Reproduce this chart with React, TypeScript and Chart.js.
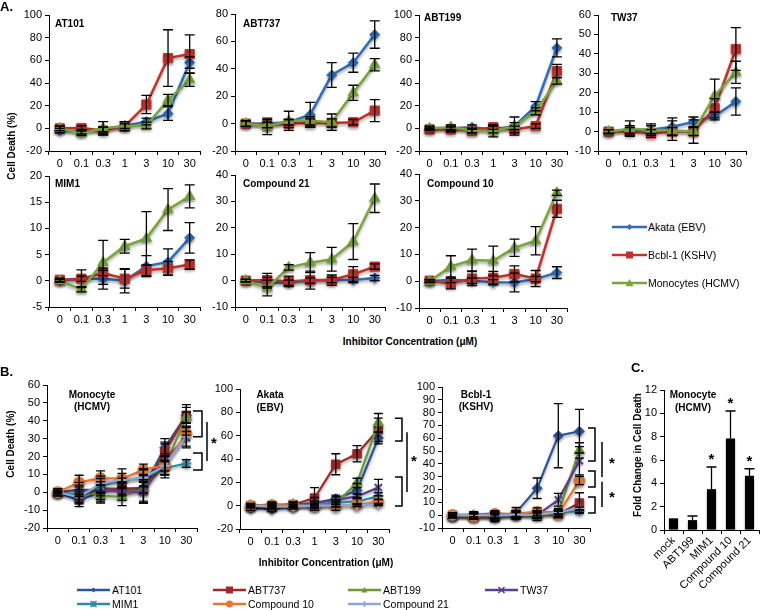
import React, { useEffect, useRef } from 'react';
import { Chart, registerables } from 'chart.js';
Chart.register(...registerables);

const FONT = "'Liberation Sans', Arial, Helvetica, sans-serif";

// ---------------- data ----------------
const concentrations = ['0', '0.1', '0.3', '1', '3', '10', '30'];
const cellLabels = ['Akata (EBV)', 'Bcbl-1 (KSHV)', 'Monocytes (HCMV)'];
const drugNames = ['AT101', 'ABT737', 'ABT199', 'TW37', 'MIM1', 'Compound 10', 'Compound 21'];

// AT101
const at101Akata = [-2, -3, -1, 2, 6, 13, 58];
const at101AkataErr = [2, 2, 2, 2, 3, 6, 5];
const at101Bcbl = [0, 0.3, -2, 2, 21, 62, 65.5];
const at101BcblErr = [2, 2, 3, 4, 8, 25, 17];
const at101Mono = [0, -4.5, 0, 2, 2.5, 25, 43];
const at101MonoErr = [2, 2, 6, 4, 3, 5, 6];
// ABT737
const abt737Akata = [0, 0, 1, 6.5, 35.5, 44.5, 65];
const abt737AkataErr = [2, 3, 2, 9, 9, 7, 10];
const abt737Bcbl = [0, -1, 0, 0.5, 0.5, 1, 9.5];
const abt737BcblErr = [2, 2, 3, 3, 3, 2, 8];
const abt737Mono = [0, -2, 2, 2, 1, 22.5, 43];
const abt737MonoErr = [2, 6, 7, 3, 6, 5.5, 4.5];
// ABT199
const abt199Akata = [0, 0, 1, -1, 2, 19.5, 71];
const abt199AkataErr = [1, 2, 2, 3, 3, 4, 8];
const abt199Bcbl = [-1, -1, -2, 1, -1, 2, 50.5];
const abt199BcblErr = [1, 2, 2, 2, 3, 2, 6];
const abt199Mono = [0, 1, -2, -2.5, 2, 15, 42];
const abt199MonoErr = [2, 2, 2, 5, 8, 3, 3];
// TW37
const tw37Akata = [0, 1, 1, 2.5, 5, 8, 15.5];
const tw37AkataErr = [1, 2, 2, 4.5, 2.5, 2, 7];
const tw37Bcbl = [0, 0, -1, 0, 0, 12, 42.5];
const tw37BcblErr = [1, 2, 2, 2, 2, 5, 11];
const tw37Mono = [0, 1.5, 1, 0.5, 0, 18.5, 30.5];
const tw37MonoErr = [1, 4, 3, 5, 6, 8.5, 5.7];
// MIM1
const mim1Akata = [0, 0.4, 0.4, 0, 2.8, 3.6, 8.2];
const mim1AkataErr = [0.3, 0.5, 2, 2.3, 2, 2.5, 2.9];
const mim1Bcbl = [0.2, 0.4, 1.5, 0.4, 2, 2.4, 3.1];
const mim1BcblErr = [0.3, 1.7, 0.5, 1.8, 1, 1.3, 0.9];
const mim1Mono = [0, -1.6, 3.5, 6.6, 8.1, 13.6, 16.1];
const mim1MonoErr = [0.3, 0.5, 4.2, 1.3, 5.1, 4, 2.2];
// Compound 21
const c21Akata = [0, -0.8, -0.8, 0, 0.2, 0.2, 1];
const c21AkataErr = [0.5, 2, 1, 1, 1, 1, 1];
const c21Bcbl = [0, 0.2, -0.3, 0.2, 0.2, 2.4, 5.3];
const c21BcblErr = [0.5, 2.5, 2, 3.4, 2, 2.9, 1];
const c21Mono = [0, -2.8, 5, 6.8, 8.1, 14.8, 31.2];
const c21MonoErr = [0.5, 3, 1, 3.8, 4.5, 6.8, 5.4];
// Compound 10
const c10Akata = [0, 0.5, 0.2, -0.4, -0.5, 0.8, 3.2];
const c10AkataErr = [0.5, 1, 1, 1, 3.5, 1, 2.2];
const c10Bcbl = [0.2, -0.9, 1, 1.3, 2.7, 1, 27];
const c10BcblErr = [0.5, 2, 2.6, 2.4, 3, 3, 3.2];
const c10Mono = [0, 5.5, 7.9, 7.6, 12.5, 15.1, 33];
const c10MonoErr = [0.5, 4, 4.1, 5.5, 3.2, 5.3, 1];

// Panel C
const foldLabels = ['mock', 'ABT199', 'MIM1', 'Compound 10', 'Compound 21'];
const foldValues = [1, 0.85, 3.5, 7.85, 4.65];
const foldErr = [0, 0.35, 1.9, 2.35, 0.6];
const foldSignificant = [false, false, true, true, true];

// Panel B significance brackets (value ranges)
const monoBrackets = [[45.5, 31], [22, 12.4]];
const monoLinks = [[39.3, 17.5]];
const monoStars = [29.5];
const akataBrackets = [[75, 55.4], [24.6, -0.3]];
const akataLinks = [[63, 11.7]];
const akataStars = [41];
const bcblBrackets = [[68, 42.3], [34.5, 22], [14.2, 1.7]];
const bcblLinks = [[57, 29.8], [26, 6.4]];
const bcblStars = [43, 17];

// ---------------- styles ----------------
const cellColors = ['#2f6db5', '#c0322c', '#7aa53a'];
const cellShapes = ['rectRot', 'rect', 'triangle'];
const cellRadius = [5, 6.5, 6];
const drugColors = ['#2b5597', '#9e2a2b', '#6b9a34', '#5b3e8c', '#2e8ba5', '#e8772e', '#8ea6d6'];
const drugShapes = ['rectRot', 'rect', 'triangle', 'crossRot', 'star', 'circle', 'cross'];
const drugRadius = [5, 6, 6, 5, 5, 5.5, 5];

type Area = { l: number; t: number; r: number; b: number };

type Brk = { spans: number[][]; links: number[][]; stars: number[]; capL: number; capR: number; linkX: number; starX: number };

function makeExtras(errs: number[][], cap: number, brk?: Brk, plusOnly = false, barStars?: boolean[]) {
  return {
    id: 'extras',
    beforeDatasetsDraw(chart: any) {
      const ctx = chart.ctx;
      ctx.save();
      ctx.shadowColor = 'rgba(0,0,0,0.35)';
      ctx.shadowBlur = 3;
      ctx.shadowOffsetX = 0;
      ctx.shadowOffsetY = 2;
    },
    afterDatasetsDraw(chart: any) {
      const ctx = chart.ctx;
      ctx.restore();
      const ys = chart.scales.y;
      ctx.save();
      ctx.strokeStyle = '#000';
      ctx.lineWidth = 1.3;
      errs.forEach((arr, di) => {
        const meta = chart.getDatasetMeta(di);
        const data = chart.data.datasets[di].data;
        arr.forEach((e, j) => {
          if (!e) return;
          const x = meta.data[j].x;
          const v = data[j];
          const yT = ys.getPixelForValue(v + e);
          const yB = plusOnly ? ys.getPixelForValue(v) : ys.getPixelForValue(v - e);
          ctx.beginPath();
          ctx.moveTo(x, yT);
          ctx.lineTo(x, yB);
          ctx.moveTo(x - cap, yT);
          ctx.lineTo(x + cap, yT);
          if (!plusOnly) {
            ctx.moveTo(x - cap, yB);
            ctx.lineTo(x + cap, yB);
          }
          ctx.stroke();
          if (barStars && barStars[j]) {
            ctx.fillStyle = '#000';
            ctx.font = `bold 15px ${FONT}`;
            ctx.textAlign = 'center';
            ctx.textBaseline = 'middle';
            ctx.fillText('*', x, yT - 7);
          }
        });
      });
      if (brk) {
        const R = chart.chartArea.right;
        ctx.lineWidth = 1.5;
        brk.spans.forEach(([a, b]) => {
          const ya = ys.getPixelForValue(a);
          const yb = ys.getPixelForValue(b);
          ctx.beginPath();
          ctx.moveTo(R + brk.capL, ya);
          ctx.lineTo(R + brk.capR, ya);
          ctx.lineTo(R + brk.capR, yb);
          ctx.lineTo(R + brk.capL, yb);
          ctx.stroke();
        });
        brk.links.forEach(([a, b]) => {
          ctx.beginPath();
          ctx.moveTo(R + brk.linkX, ys.getPixelForValue(a));
          ctx.lineTo(R + brk.linkX, ys.getPixelForValue(b));
          ctx.stroke();
        });
        ctx.fillStyle = '#000';
        ctx.font = `bold 15px ${FONT}`;
        ctx.textAlign = 'center';
        ctx.textBaseline = 'middle';
        brk.stars.forEach((v) => ctx.fillText('*', R + brk.starX, ys.getPixelForValue(v) + 4));
      }
      ctx.restore();
    },
  };
}

function axisOpts(extra: any) {
  return {
    grid: { drawOnChartArea: false, tickLength: 4, color: '#000', lineWidth: 1, ...(extra.grid || {}) },
    border: { display: true, color: '#000', width: 1 },
    ticks: { color: '#000', font: { family: FONT, size: 11 }, autoSkip: false, maxTicksLimit: 30, ...(extra.ticks || {}) },
  };
}

function lineChart(datasets: any[], min: number, max: number, step: number, errs: number[][], cap: number, brk?: Brk) {
  return {
    type: 'line',
    data: { labels: concentrations, datasets },
    options: {
      responsive: false,
      maintainAspectRatio: false,
      animation: false,
      plugins: { legend: { display: false }, tooltip: { enabled: false } },
      scales: {
        x: {
          type: 'category',
          offset: true,
          ...axisOpts({ grid: { offset: true }, ticks: { padding: 2, maxRotation: 0 } }),
        },
        y: {
          min,
          max,
          ...axisOpts({ ticks: { stepSize: step, padding: 3 } }),
        },
      },
    },
    plugins: [makeExtras(errs, cap, brk)],
  };
}

function dataset(label: string, data: number[], color: string, shape: string, radius: number, order: number, width: number) {
  return {
    label,
    data,
    borderColor: color,
    backgroundColor: color,
    pointBackgroundColor: color,
    pointBorderColor: color,
    pointStyle: shape,
    pointRadius: radius,
    pointBorderWidth: shape === 'crossRot' || shape === 'star' || shape === 'cross' ? 2 : 1,
    borderWidth: width,
    tension: 0,
    fill: false,
    order,
  };
}

function cellSets(series: number[][]) {
  return series.map((d, i) => dataset(cellLabels[i], d, cellColors[i], cellShapes[i], cellRadius[i], series.length - i, 2.5));
}
function drugSets(series: number[][]) {
  return series.map((d, i) => dataset(drugNames[i], d, drugColors[i], drugShapes[i], drugRadius[i], series.length - i, 2.2));
}

function ChartCanvas({ area, yW, xH, padT, padR, make }: any) {
  const ref = useRef<HTMLCanvasElement>(null);
  const w = area.r - area.l + yW + padR;
  const h = area.b - area.t + padT + xH;
  useEffect(() => {
    const cfg = make();
    cfg.options.layout = { padding: { top: padT, right: padR, left: 0, bottom: 0 } };
    cfg.options.scales.x.afterFit = (s: any) => {
      s.height = xH;
    };
    cfg.options.scales.y.afterFit = (s: any) => {
      s.width = yW;
    };
    const c = new Chart(ref.current as HTMLCanvasElement, cfg);
    return () => c.destroy();
  }, []);
  return (
    <canvas
      ref={ref}
      width={w}
      height={h}
      style={{ position: 'absolute', left: area.l - yW, top: area.t - padT, width: w, height: h, display: 'block' }}
    />
  );
}

function Txt({ x, y, children, bold, size = 10, align = 'left' }: any) {
  const w = 240;
  const left = align === 'left' ? x : align === 'center' ? x - w / 2 : x - w;
  return (
    <div
      style={{
        position: 'absolute',
        left,
        top: y - 7,
        width: w,
        height: 14,
        lineHeight: '14px',
        fontSize: size,
        fontWeight: bold ? 'bold' : 'normal',
        textAlign: align,
        whiteSpace: 'nowrap',
        color: '#000',
      }}
    >
      {children}
    </div>
  );
}

function VTxt({ x, y, children }: any) {
  return (
    <div
      style={{
        position: 'absolute',
        left: x - 100,
        top: y - 7,
        width: 200,
        height: 14,
        lineHeight: '14px',
        fontSize: 10,
        fontWeight: 'bold',
        textAlign: 'center',
        transform: 'rotate(-90deg)',
        whiteSpace: 'nowrap',
      }}
    >
      {children}
    </div>
  );
}

function Marker({ shape, color, cx, cy, s }: any) {
  switch (shape) {
    case 'rectRot':
      return <polygon points={`${cx},${cy - s} ${cx + s},${cy} ${cx},${cy + s} ${cx - s},${cy}`} fill={color} />;
    case 'rect':
      return <rect x={cx - s} y={cy - s} width={2 * s} height={2 * s} fill={color} />;
    case 'triangle':
      return <polygon points={`${cx},${cy - s} ${cx + s},${cy + s * 0.8} ${cx - s},${cy + s * 0.8}`} fill={color} />;
    case 'circle':
      return <circle cx={cx} cy={cy} r={s} fill={color} />;
    case 'crossRot':
      return (
        <path d={`M${cx - s} ${cy - s}L${cx + s} ${cy + s}M${cx - s} ${cy + s}L${cx + s} ${cy - s}`} stroke={color} strokeWidth={1.6} />
      );
    case 'star':
      return (
        <path
          d={`M${cx - s} ${cy - s}L${cx + s} ${cy + s}M${cx - s} ${cy + s}L${cx + s} ${cy - s}M${cx} ${cy - s}L${cx} ${cy + s}`}
          stroke={color}
          strokeWidth={1.6}
        />
      );
    default:
      return <path d={`M${cx - s} ${cy}L${cx + s} ${cy}M${cx} ${cy - s}L${cx} ${cy + s}`} stroke={color} strokeWidth={1.6} />;
  }
}

function LegendItem({ x, y, len, color, shape, s, label, textGap = 2 }: any) {
  return (
    <div style={{ position: 'absolute', left: x, top: y - 7, height: 14, display: 'flex', alignItems: 'center', whiteSpace: 'nowrap' }}>
      <svg width={len} height={14} style={{ display: 'block' }}>
        <line x1={0} y1={7} x2={len} y2={7} stroke={color} strokeWidth={2.5} />
        <Marker shape={shape} color={color} cx={len / 2} cy={7} s={s} />
      </svg>
      <span style={{ fontSize: 10.5, lineHeight: '14px', marginLeft: textGap }}>{label}</span>
    </div>
  );
}

const aRow1: Area[] = [
  { l: 49, t: 15, r: 204, b: 151 },
  { l: 235, t: 14, r: 389, b: 151 },
  { l: 419, t: 15, r: 571, b: 151 },
  { l: 598, t: 15, r: 750, b: 151 },
];
const aRow2: Area[] = [
  { l: 49, t: 176, r: 204, b: 307 },
  { l: 235, t: 175, r: 389, b: 307 },
  { l: 419, t: 174, r: 571, b: 308 },
];
const bAreas: Area[] = [
  { l: 47, t: 385, r: 197, b: 528 },
  { l: 240, t: 389, r: 389, b: 529 },
  { l: 442, t: 387, r: 590, b: 528 },
];
const cArea: Area = { l: 664, t: 390, r: 759, b: 530 };

export default function App() {
  const aPanels = [
    { area: aRow1[0], s: [at101Akata, at101Bcbl, at101Mono], e: [at101AkataErr, at101BcblErr, at101MonoErr], min: -20, max: 100, step: 20 },
    { area: aRow1[1], s: [abt737Akata, abt737Bcbl, abt737Mono], e: [abt737AkataErr, abt737BcblErr, abt737MonoErr], min: -20, max: 80, step: 20 },
    { area: aRow1[2], s: [abt199Akata, abt199Bcbl, abt199Mono], e: [abt199AkataErr, abt199BcblErr, abt199MonoErr], min: -20, max: 100, step: 20 },
    { area: aRow1[3], s: [tw37Akata, tw37Bcbl, tw37Mono], e: [tw37AkataErr, tw37BcblErr, tw37MonoErr], min: -10, max: 60, step: 10 },
    { area: aRow2[0], s: [mim1Akata, mim1Bcbl, mim1Mono], e: [mim1AkataErr, mim1BcblErr, mim1MonoErr], min: -5, max: 20, step: 5 },
    { area: aRow2[1], s: [c21Akata, c21Bcbl, c21Mono], e: [c21AkataErr, c21BcblErr, c21MonoErr], min: -10, max: 40, step: 10 },
    { area: aRow2[2], s: [c10Akata, c10Bcbl, c10Mono], e: [c10AkataErr, c10BcblErr, c10MonoErr], min: -10, max: 40, step: 10 },
  ];
  const bPanels = [
    {
      area: bAreas[0],
      s: [at101Mono, abt737Mono, abt199Mono, tw37Mono, mim1Mono, c10Mono, c21Mono],
      e: [at101MonoErr, abt737MonoErr, abt199MonoErr, tw37MonoErr, mim1MonoErr, c10MonoErr, c21MonoErr],
      min: -20, max: 60, step: 10, padR: 32,
      brk: { spans: monoBrackets, links: monoLinks, stars: monoStars, capL: -4, capR: 5, linkX: 10, starX: 17 },
    },
    {
      area: bAreas[1],
      s: [at101Akata, abt737Akata, abt199Akata, tw37Akata, mim1Akata, c10Akata, c21Akata],
      e: [at101AkataErr, abt737AkataErr, abt199AkataErr, tw37AkataErr, mim1AkataErr, c10AkataErr, c21AkataErr],
      min: -20, max: 100, step: 20, padR: 34,
      brk: { spans: akataBrackets, links: akataLinks, stars: akataStars, capL: 6, capR: 13, linkX: 18, starX: 25 },
    },
    {
      area: bAreas[2],
      s: [at101Bcbl, abt737Bcbl, abt199Bcbl, tw37Bcbl, mim1Bcbl, c10Bcbl, c21Bcbl],
      e: [at101BcblErr, abt737BcblErr, abt199BcblErr, tw37BcblErr, mim1BcblErr, c10BcblErr, c21BcblErr],
      min: -10, max: 100, step: 10, padR: 34,
      brk: { spans: bcblBrackets, links: bcblLinks, stars: bcblStars, capL: -2, capR: 5, linkX: 12, starX: 22 },
    },
  ];

  const makeBar = () => ({
    type: 'bar',
    data: {
      labels: foldLabels,
      datasets: [{ data: foldValues, backgroundColor: '#000', borderWidth: 0, barPercentage: 0.48, categoryPercentage: 1 }],
    },
    options: {
      responsive: false,
      maintainAspectRatio: false,
      animation: false,
      plugins: { legend: { display: false }, tooltip: { enabled: false } },
      scales: {
        x: { offset: true, ...axisOpts({ grid: { offset: true }, ticks: { minRotation: 45, maxRotation: 45, padding: 0 } }) },
        y: { min: 0, max: 12, ...axisOpts({ ticks: { stepSize: 2, padding: 3 } }) },
      },
    },
    plugins: [makeExtras([foldErr], 5, undefined, true, foldSignificant)],
  });

  return (
    <div style={{ position: 'absolute', left: 0, top: 0, width: 760, height: 610, background: '#fff', fontFamily: FONT, color: '#000', overflow: 'hidden' }}>
      {aPanels.map((p, i) => (
        <ChartCanvas
          key={'a' + i}
          area={p.area}
          yW={36}
          xH={22}
          padT={10}
          padR={4}
          make={() => lineChart(cellSets(p.s), p.min, p.max, p.step, p.e, 5)}
        />
      ))}
      {bPanels.map((p, i) => (
        <ChartCanvas
          key={'b' + i}
          area={p.area}
          yW={36}
          xH={22}
          padT={10}
          padR={p.padR}
          make={() => lineChart(drugSets(p.s), p.min, p.max, p.step, p.e, 4.5, p.brk)}
        />
      ))}
      <ChartCanvas area={cArea} yW={30} xH={78} padT={10} padR={1} make={makeBar} />

      {/* panel labels */}
      <Txt x={0} y={7} bold size={13}>A.</Txt>
      <Txt x={0} y={372} bold size={13}>B.</Txt>
      <Txt x={631} y={368} bold size={13}>C.</Txt>

      {/* in-plot titles A */}
      <Txt x={55} y={24} bold>AT101</Txt>
      <Txt x={243} y={24} bold>ABT737</Txt>
      <Txt x={424} y={18} bold>ABT199</Txt>
      <Txt x={611} y={18} bold>TW37</Txt>
      <Txt x={55} y={184} bold>MIM1</Txt>
      <Txt x={243} y={184} bold>Compound 21</Txt>
      <Txt x={427} y={184} bold>Compound 10</Txt>

      {/* in-plot titles B, C */}
      <Txt x={92} y={395} bold align="center">Monocyte</Txt>
      <Txt x={92} y={407} bold align="center">(HCMV)</Txt>
      <Txt x={270} y={395} bold align="center">Akata</Txt>
      <Txt x={270} y={408} bold align="center">(EBV)</Txt>
      <Txt x={476} y={395} bold align="center">Bcbl-1</Txt>
      <Txt x={476} y={407} bold align="center">(KSHV)</Txt>
      <Txt x={693} y={395} bold align="center">Monocyte</Txt>
      <Txt x={693} y={408} bold align="center">(HCMV)</Txt>

      {/* axis titles */}
      <VTxt x={12} y={146}>Cell Death (%)</VTxt>
      <Txt x={410} y={342} bold align="center">Inhibitor Concentration (μM)</Txt>
      <VTxt x={11} y={444}>Cell Death (%)</VTxt>
      <Txt x={326} y={563} bold align="center">Inhibitor Concentration (μM)</Txt>
      <VTxt x={638} y={455}>Fold Change in Cell Death</VTxt>

      {/* legend A */}
      {cellLabels.map((lab, i) => (
        <LegendItem
          key={lab}
          x={612}
          y={227 + i * 28}
          len={35}
          color={cellColors[i]}
          shape={cellShapes[i]}
          s={[3, 3.5, 4][i]}
          label={lab}
          textGap={1}
        />
      ))}

      {/* legend B */}
      {drugNames.map((lab, i) => {
        const col = i < 4 ? i : i - 4;
        const row = i < 4 ? 0 : 1;
        const xs = [77, 213, 348, 485];
        return (
          <LegendItem
            key={lab}
            x={xs[col]}
            y={590 + row * 14}
            len={33}
            color={drugColors[i]}
            shape={drugShapes[i]}
            s={[2.5, 3.5, 3, 3, 3, 3.5, 3][i]}
            label={lab}
            textGap={2}
          />
        );
      })}
    </div>
  );
}
